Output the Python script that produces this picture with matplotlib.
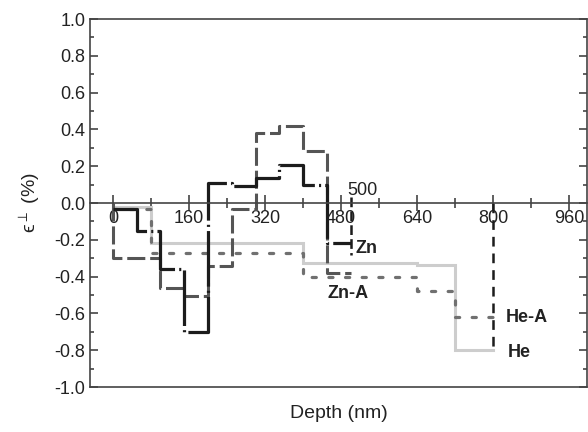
import matplotlib
matplotlib.use("Agg")
import matplotlib.pyplot as plt
import numpy as np

plt.rcParams['font.family'] = ['Liberation Sans', 'DejaVu Sans']
plt.rcParams['mathtext.fontset'] = 'dejavusans'
plt.rcParams['lines.scale_dashes'] = False

# step profiles: layer edges (nm) and strain value (%) in each layer
zn_edges = [0, 50, 100, 150, 200, 250, 300, 350, 400, 450, 500]
zn_vals = [-0.03, -0.15, -0.36, -0.70, 0.11, 0.09, 0.135, 0.205, 0.10, -0.22]

zna_edges = [0, 100, 150, 200, 250, 300, 350, 400, 450, 500]
zna_vals = [-0.30, -0.46, -0.505, -0.34, -0.03, 0.38, 0.42, 0.28, -0.38]

he_edges = [0, 80, 400, 640, 720, 800]
he_vals = [-0.02, -0.22, -0.325, -0.335, -0.80]

hea_edges = [0, 80, 400, 640, 720, 800]
hea_vals = [-0.03, -0.27, -0.40, -0.48, -0.62]

zn_depth = 500
he_depth = 800
y_ticks = [-1.0, -0.8, -0.6, -0.4, -0.2, 0.0, 0.2, 0.4, 0.6, 0.8, 1.0]
y_ticklabels = ['-1.0', '-0.8', '-0.6', '-0.4', '-0.2', '0.0', '0.2', '0.4', '0.6', '0.8', '1.0']


def steps(edges, vals, start=None):
    x = []
    y = []
    if start is not None:
        x.append(edges[0])
        y.append(start)
    for i, v in enumerate(vals):
        x += [edges[i], edges[i + 1]]
        y += [v, v]
    return x, y


fig = plt.figure(figsize=(5.88, 4.32), dpi=100)
ax = fig.add_axes([90 / 588, 45 / 432, 497 / 588, 368 / 432])

x, y = steps(he_edges, he_vals)
ax.plot(x, y, color='#cdcdcd', lw=2.2, solid_joinstyle='miter')

x, y = steps(hea_edges, hea_vals)
ax.plot(x, y, color='#707070', lw=2.3, dashes=(3, 9), dash_capstyle='round')

x, y = steps(zna_edges, zna_vals, start=0.0)
ax.plot(x, y, color='#555555', lw=2.2, dashes=(13, 3.5))

x, y = steps(zn_edges, zn_vals)
ax.plot(x, y, color='#1c1c1c', lw=2.3, dashes=(40, 3, 1.5, 3))

# film thickness markers
ax.plot([zn_depth, zn_depth], [0.03, -0.28], color='#1c1c1c', lw=1.8, dashes=(7, 3))
ax.plot([he_depth, he_depth], [0.0, -0.80], color='#1c1c1c', lw=1.8, dashes=(7, 5))
ax.text(zn_depth - 6, 0.02, '500', fontsize=13, ha='left', va='bottom', color='#222222')

lab = dict(fontsize=13, fontweight='bold', color='#222222', va='center', ha='left')
ax.text(511, -0.245, 'Zn', **lab)
ax.text(452, -0.49, 'Zn-A', **lab)
ax.text(826, -0.62, 'He-A', **lab)
ax.text(830, -0.815, 'He', **lab)

ax.set_xlim(-48, 997)
ax.set_ylim(-1.0, 1.0)

ax.spines['bottom'].set_position(('data', 0))
for s in ax.spines.values():
    s.set_color('#444444')
    s.set_linewidth(1.2)
ax.plot([0, 1], [0, 0], transform=ax.transAxes, color='#444444', lw=1.2, clip_on=False)

ax.set_xticks(np.arange(0, 961, 160))
ax.set_xticks(np.arange(80, 961, 160), minor=True)
ax.set_yticks(y_ticks)
ax.set_yticks(np.arange(-0.9, 1.0, 0.2), minor=True)
ax.set_yticklabels(y_ticklabels)

ax.tick_params(axis='x', which='major', direction='inout', length=12, width=1.2,
               colors='#444444', labelcolor='#222222', labelsize=13, pad=-1)
ax.tick_params(axis='x', which='minor', direction='inout', length=7, width=1.2, colors='#444444')
ax.tick_params(axis='y', which='both', direction='in', right=True, width=1.2,
               colors='#444444', labelcolor='#222222', labelsize=13)
ax.tick_params(axis='y', which='major', length=6)
ax.tick_params(axis='y', which='minor', length=3)

ax.set_ylabel('ϵ$^{\\perp}$ (%)', fontsize=14, color='#222222', labelpad=8)
ax.text(0.5, -0.072, 'Depth (nm)', transform=ax.transAxes, fontsize=14,
        ha='center', va='center', color='#222222')

fig.savefig('out.png', dpi=100)
